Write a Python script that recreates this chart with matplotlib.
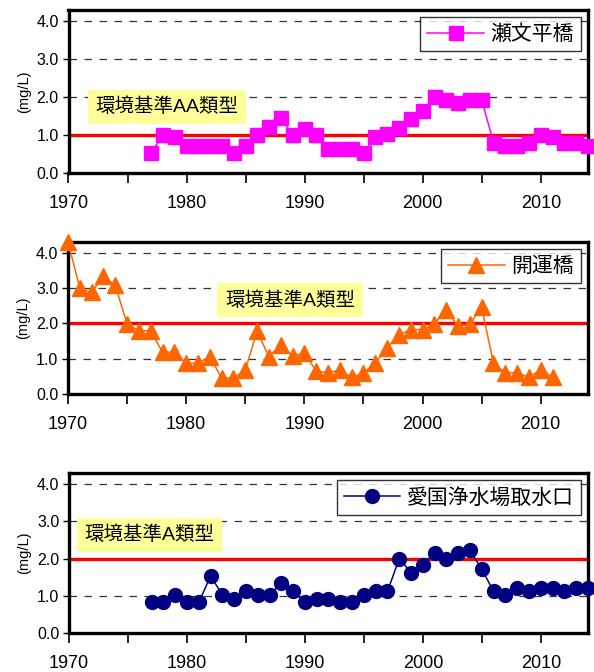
import numpy as np
import matplotlib
matplotlib.use("Agg")
import matplotlib.pyplot as plt

plt.rcParams['font.family'] = ['Liberation Sans', 'Noto Sans CJK JP', 'DejaVu Sans']

# 瀬文平橋 (1977-2014)
years_seb = list(range(1977, 2015))
seb = [0.53, 1.0, 0.95, 0.72, 0.72, 0.72, 0.72, 0.53, 0.72, 1.0,
       1.22, 1.44, 1.0, 1.16, 1.0, 0.63, 0.63, 0.63, 0.53, 0.95,
       1.02, 1.2, 1.42, 1.63, 2.0, 1.93, 1.84, 1.93, 1.93, 0.8,
       0.72, 0.72, 0.8, 1.0, 0.95, 0.8, 0.8, 0.72]

# 開運橋 (1970-2011)
years_kai = list(range(1970, 2012))
kai = [4.3, 3.0, 2.88, 3.33, 3.07, 1.98, 1.79, 1.79, 1.18, 1.19,
       0.87, 0.87, 1.06, 0.45, 0.45, 0.68, 1.77, 1.06, 1.39, 1.08,
       1.16, 0.65, 0.6, 0.68, 0.47, 0.6, 0.87, 1.3, 1.68, 1.82,
       1.82, 1.98, 2.39, 1.91, 1.98, 2.46, 0.87, 0.6, 0.6, 0.47,
       0.68, 0.47]

# 愛国浄水場取水口 (1977-2014)
years_aik = list(range(1977, 2015))
aik = [0.82, 0.82, 1.03, 0.82, 0.82, 1.53, 1.03, 0.92, 1.12, 1.03,
       1.03, 1.34, 1.12, 0.83, 0.92, 0.92, 0.83, 0.83, 1.03, 1.12,
       1.12, 2.0, 1.62, 1.84, 2.16, 2.0, 2.16, 2.22, 1.71, 1.12,
       1.03, 1.21, 1.12, 1.21, 1.21, 1.12, 1.21, 1.21]

panels = [
    dict(x=years_seb, y=seb, name='瀬文平橋', color='#FF00FF', marker='s', ms=10,
         std=1.0, label='環境基準AA類型', lab_xy=(1972.3, 1.75),
         rect=(68.5, 10, 588, 173)),
    dict(x=years_kai, y=kai, name='開運橋', color='#FF6600', marker='^', ms=11,
         std=2.0, label='環境基準A類型', lab_xy=(1983.3, 2.65),
         rect=(68, 242, 588, 394)),
    dict(x=years_aik, y=aik, name='愛国浄水場取水口', color='#000080', marker='o', ms=10,
         std=2.0, label='環境基準A類型', lab_xy=(1971.3, 2.63),
         rect=(69, 473, 588, 633)),
]

W, H = 594, 672
fig = plt.figure(figsize=(W / 100, H / 100), dpi=100)

for p in panels:
    l, t, r, b = p['rect']
    ax = fig.add_axes([l / W, 1 - b / H, (r - l) / W, (b - t) / H])
    ax.set_xlim(1970, 2014)
    ax.set_ylim(0, 4.3)
    ax.set_yticks([0, 1, 2, 3, 4])
    ax.set_yticklabels(['0.0', '1.0', '2.0', '3.0', '4.0'])
    ax.set_xticks(range(1970, 2015, 5))
    ax.set_xticklabels([str(v) if v % 10 == 0 else '' for v in range(1970, 2015, 5)])
    ax.tick_params(axis='x', direction='out', length=7, width=1.2, pad=9, labelsize=13)
    ax.tick_params(axis='y', direction='out', length=4, width=1.0, pad=3, labelsize=11.5)
    for s in ax.spines.values():
        s.set_linewidth(2.4)
        s.set_color('black')
    for g in [1, 2, 3, 4]:
        ax.axhline(g, color='#333333', lw=0.9, ls=(0, (6, 6)), zorder=1)
    ax.axhline(p['std'], color='red', lw=2.4, zorder=2)
    ax.plot(p['x'], p['y'], color=p['color'], lw=1.1, marker=p['marker'],
            ms=p['ms'], mec=p['color'], mfc=p['color'], clip_on=False,
            zorder=3, label=p['name'])
    ax.set_ylabel('(mg/L)', fontsize=10.5, labelpad=4)
    ax.text(p['lab_xy'][0], p['lab_xy'][1], p['label'], fontsize=14,
            va='center', ha='left', zorder=4,
            bbox=dict(boxstyle='square,pad=0.4', fc='#FFFF99', ec='none'))
    leg = ax.legend(loc='upper right', fontsize=15, frameon=True, fancybox=False,
                    handlelength=2.7, borderpad=0.35, borderaxespad=0.35,
                    handletextpad=0.3)
    leg.get_frame().set_edgecolor('black')
    leg.get_frame().set_linewidth(1.0)

fig.savefig('out.png', dpi=100)
